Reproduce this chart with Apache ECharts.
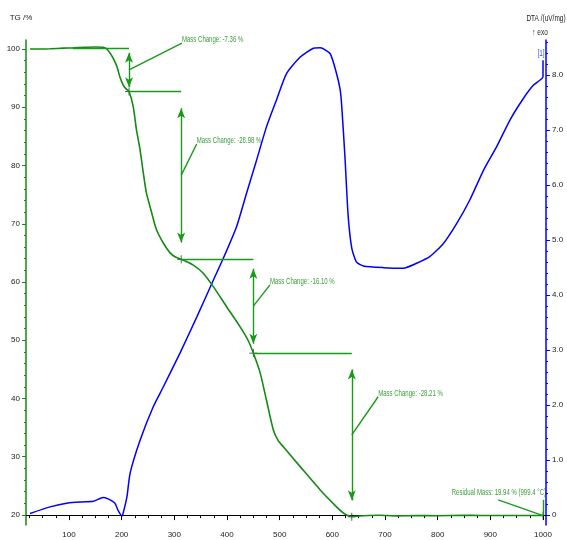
<!DOCTYPE html>
<html>
<head>
<meta charset="utf-8">
<script src="https://cdn.jsdelivr.net/npm/echarts@6/dist/echarts.min.js"></script>
<style>html,body{margin:0;padding:0;background:#fff;}#c{width:567px;height:540px;}</style>
</head>
<body>
<div id="c"></div>
<script>
// ---- data ----
const tgTemp = [26,40,64,90,108,130,150,165,172,178,184,191,197,203,208,214,222,228,235,241,247,257,266,279,292,302,313,336,355,374,399,425,440,450,463,475,488,497,507,539,577,608,620,627,637,660,690,720,760,800,850,880,920,960,1000];
const tgMass = [100.0,100.0,100.05,100.15,100.2,100.3,100.35,100.3,100.0,99.3,98.4,97.0,95.1,93.8,93.2,92.7,90.1,86.2,82.7,78.8,75.3,71.9,69.0,66.7,65.0,64.3,63.9,62.9,61.5,59.2,55.8,52.3,50.0,47.8,44.4,39.7,34.6,32.8,31.7,28.3,24.3,21.4,20.4,20.0,19.75,19.88,19.95,19.85,19.9,19.88,19.95,19.92,19.9,19.9,19.9];

const dtaTemp = [26,64,98,125,146,165,173,187,193,200.6,203,210,216,235,260,279,311,343,374,393,418,437,456,475,494,513,539,564,577,596,608,615,618,624,630,637,646,659,697,735,760,785,811,836,861,887,912,937,963,982,1000,1000];
const dtaValue = [0.03,0.15,0.22,0.24,0.25,0.32,0.30,0.22,0.09,-0.02,0.04,0.33,0.76,1.36,1.97,2.33,2.95,3.61,4.27,4.67,5.24,5.85,6.45,7.06,7.55,8.03,8.33,8.49,8.50,8.39,8.03,7.73,7.42,6.51,5.45,4.85,4.60,4.53,4.50,4.49,4.58,4.70,4.94,5.30,5.73,6.27,6.70,7.18,7.58,7.82,7.97,8.27];

const xTickLabels = [100,200,300,400,500,600,700,800,900,1000];
const tgTickLabels = [20,30,40,50,60,70,80,90,100];
const dtaTickLabels = [0,1,2,3,4,5,6,7,8];

// mass-change evaluation
const stepStartTemp = 107;
const stepTemp = [214, 313, 450, 637];
const stepLevel = [100.1, 92.7, 63.9, 47.8, 19.7];
const massChange = ['-7.36', '-28.98', '-16.10', '-28.21'];
const residualMass = '19.94';
const residualTemp = '999.4';
const residualAt = [1000, 19.9];
const seriesTag = '[1]';

// annotation layout (data space)
const leaderEnds = [[314.5, 101.0], [342.5, 83.7], [481.6, 59.5], [687, 40.3]];
const residualLeaderEnd = [915, 22.6];

// ---- build ----
const GREEN = '#138a13', LINEGREEN = '#1a9a1a', TXTGREEN = '#3d9b3d', BLUE = '#0000ff';
const tgData = tgTemp.map((t, i) => [t, tgMass[i]]);
const dtaData = dtaTemp.map((t, i) => [t, dtaValue[i]]);

const ml = [];
const seg = (a, b, arrows) => ml.push([
  {coord: a, symbol: arrows ? 'arrow' : 'none', lineStyle: {color: LINEGREEN, width: 1.4, type: 'solid'}},
  {coord: b, symbol: arrows ? 'arrow' : 'none'}
]);
stepTemp.forEach((t, k) => {
  const top = stepLevel[k], bot = stepLevel[k + 1], span = top - bot;
  seg([k === 0 ? stepStartTemp : stepTemp[k - 1], top], [t, top], false);
  seg([t, top - 0.1 * span], [t, bot + 0.1 * span], true);
  seg([t, (top + bot) / 2], leaderEnds[k], false);
});
seg(residualAt, [residualAt[0], residualLeaderEnd[1]], false);
seg(residualAt, residualLeaderEnd, false);

const crossData = stepTemp.map((t, k) => [t, stepLevel[k + 1]]).concat([residualAt]);

const FONT = '"Liberation Sans", Arial, sans-serif';
const tickLbl = {fontFamily: FONT, fontSize: 8, color: '#222'};
const X = {min: 18.4, max: 1005.7};
const YL = {min: 18.28, max: 101.55};
const YR = {min: -0.18, max: 8.64};
const range = (a, b, s) => { const r = []; for (let v = a; v <= b + 1e-9; v += s) r.push(+v.toFixed(4)); return r; };

const chart = echarts.init(document.getElementById('c'), null, {renderer: 'canvas'});
chart.setOption({
  animation: false,
  backgroundColor: '#fff',
  grid: {left: 26, right: 21, top: 40, bottom: 15, containLabel: false, outerBoundsMode: 'none'},
  xAxis: [
    {type: 'value', position: 'bottom', min: X.min, max: X.max, splitLine: {show: false},
     axisLine: {lineStyle: {color: '#000', width: 1}},
     axisTick: {customValues: xTickLabels, length: 5, lineStyle: {color: '#000'}},
     axisLabel: {customValues: xTickLabels, margin: 6, formatter: v => String(v), ...tickLbl}},
    {type: 'value', position: 'bottom', offset: 0, min: X.min, max: X.max, splitLine: {show: false},
     axisLine: {show: false}, axisLabel: {show: false},
     axisTick: {customValues: range(25, 1000, 25), length: 3, lineStyle: {color: '#000'}}}
  ],
  yAxis: [
    {type: 'value', position: 'left', min: YL.min, max: YL.max, name: 'TG /%', nameGap: 18,
     nameTextStyle: {fontFamily: FONT, fontSize: 8, color: '#222', align: 'center', padding: [0, 0, 0, -10]},
     splitLine: {show: false},
     axisLine: {show: true, lineStyle: {color: GREEN, width: 1.5}},
     axisTick: {customValues: tgTickLabels, length: 4, lineStyle: {color: GREEN}},
     axisLabel: {customValues: tgTickLabels, margin: 6, ...tickLbl}},
    {type: 'value', position: 'right', min: YR.min, max: YR.max, splitLine: {show: false},
     axisLine: {show: true, lineStyle: {color: BLUE, width: 1.5}},
     axisTick: {customValues: dtaTickLabels, length: 4, lineStyle: {color: BLUE}},
     axisLabel: {customValues: dtaTickLabels, margin: 6, ...tickLbl,
       formatter: v => v === 0 ? '0' : v.toFixed(1)}},
    {type: 'value', position: 'left', offset: 0, min: YL.min, max: YL.max, splitLine: {show: false},
     axisLine: {show: false}, axisLabel: {show: false},
     axisTick: {customValues: range(20, 100, 2), length: 2, lineStyle: {color: GREEN}}},
    {type: 'value', position: 'right', offset: 0, min: YR.min, max: YR.max, splitLine: {show: false},
     axisLine: {show: false}, axisLabel: {show: false},
     axisTick: {customValues: range(0, 8.6, 0.2), length: 2, lineStyle: {color: BLUE}}}
  ],
  series: [
    {type: 'line', name: 'DTA', xAxisIndex: 0, yAxisIndex: 1, data: dtaData, showSymbol: false,
     smooth: 0.2, lineStyle: {color: BLUE, width: 1.5}, silent: true},
    {type: 'line', name: 'TG', xAxisIndex: 0, yAxisIndex: 0, data: tgData, showSymbol: false,
     smooth: 0.2, lineStyle: {color: GREEN, width: 1.6}, silent: true,
     markLine: {silent: true, symbolSize: [6, 10], label: {show: false}, emphasis: {disabled: true},
       lineStyle: {color: LINEGREEN, width: 1.4, type: 'solid'}, data: ml}},
    {type: 'scatter', xAxisIndex: 0, yAxisIndex: 0, data: crossData, silent: true,
     symbol: 'path://M4.5,0 L5.5,0 L5.5,4.5 L10,4.5 L10,5.5 L5.5,5.5 L5.5,10 L4.5,10 L4.5,5.5 L0,5.5 L0,4.5 L4.5,4.5 Z',
     symbolSize: 8, itemStyle: {color: '#000'}}
  ]
});

// condensed annotation texts, placed through the chart's own scales
const SX = 0.67;
const toTG = p => chart.convertToPixel({xAxisIndex: 0, yAxisIndex: 0}, p);
const toDTA = p => chart.convertToPixel({xAxisIndex: 0, yAxisIndex: 1}, p);
const txt = (pos, text, color, align, size, dy, sx) => ({
  type: 'text', x: pos[0], y: pos[1] + (dy || 0), scaleX: sx || SX, silent: true,
  style: {text, fill: color, font: (size || 9) + 'px ' + FONT, textAlign: align || 'left', textVerticalAlign: 'bottom'}
});
const g = leaderEnds.map((p, k) => txt(toTG(p), 'Mass Change: ' + massChange[k] + ' %', TXTGREEN, 'left', 9, 1));
const rp = toTG([residualAt[0], residualLeaderEnd[1]]);
g.push(txt([rp[0] + 3, rp[1]], 'Residual Mass: ' + residualMass + ' % (' + residualTemp + ' °C)', TXTGREEN, 'right', 9, -3));
const tp = toDTA(dtaData[dtaData.length - 1]);
g.push(txt([tp[0] - 2, tp[1]], seriesTag, '#3050ff', 'center', 9, -2, 0.72));
const grid = chart.getModel().getComponent('grid').coordinateSystem.getRect();
g.push(txt([grid.x + grid.width, grid.y - 17], 'DTA /(uV/mg)', '#222', 'center', 9, 0, 0.72));
g.push(txt([grid.x + grid.width - 6, grid.y - 3], '↑ exo', '#222', 'center', 9, 0, 0.72));
chart.setOption({graphic: g});
</script>
</body>
</html>
